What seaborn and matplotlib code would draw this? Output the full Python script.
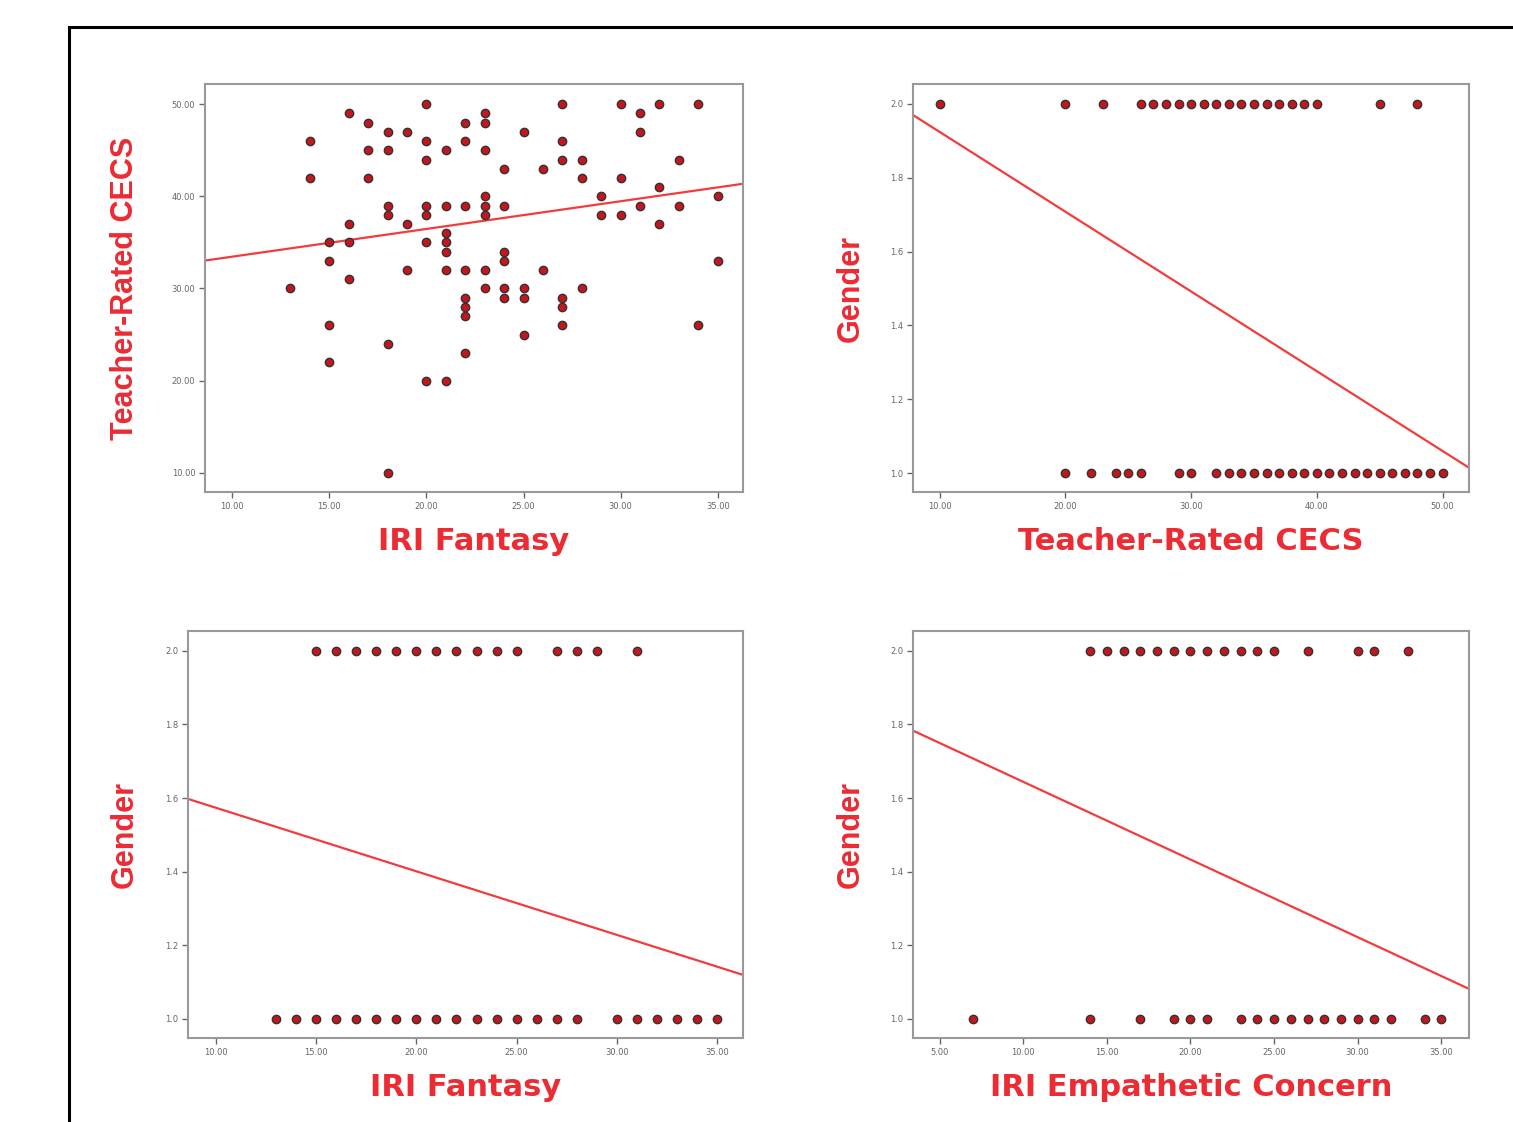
import numpy as np
import pandas as pd
import matplotlib
matplotlib.use("Agg")
import matplotlib.pyplot as plt
from matplotlib.patches import Rectangle
from matplotlib.ticker import FormatStrFormatter
import seaborn as sns

# --- Data ---
# Panel 1: IRI Fantasy vs Teacher-Rated CECS (points grouped by CECS value)
fantasy_by_cecs = {
    50: [20, 27, 30, 32, 34],
    49: [16, 23, 31],
    48: [17, 22, 23],
    47: [18, 19, 25, 31],
    46: [14, 20, 22, 27],
    45: [17, 18, 21, 23],
    44: [20, 27, 28, 33],
    43: [24, 26],
    42: [14, 17, 28, 30],
    41: [32],
    40: [23, 29, 35],
    39: [18, 20, 21, 22, 23, 24, 31, 33],
    38: [18, 20, 23, 29, 30],
    37: [16, 19, 32],
    36: [21],
    35: [15, 16, 20, 21],
    34: [21, 24],
    33: [15, 24, 35],
    32: [19, 21, 22, 23, 26],
    31: [16],
    30: [13, 23, 24, 25, 28],
    29: [22, 24, 25, 27],
    28: [22, 27],
    27: [22],
    26: [15, 27, 34],
    25: [25],
    24: [18],
    23: [22],
    22: [15],
    20: [20, 21],
    10: [18],
}

# Panel 2: Teacher-Rated CECS by gender
cecs_gender1 = [20, 22, 24, 25, 26, 29, 30] + list(range(32, 51))
cecs_gender2 = [10, 20, 23] + list(range(26, 41)) + [45, 48]

# Panel 3: IRI Fantasy by gender
fantasy_gender1 = list(range(13, 29)) + list(range(30, 36))
fantasy_gender2 = list(range(15, 26)) + [27, 28, 29, 31]

# Panel 4: IRI Empathetic Concern by gender
empathy_gender1 = [7, 14, 17, 19, 20, 21] + list(range(23, 33)) + [34, 35]
empathy_gender2 = list(range(14, 26)) + [27, 30, 31, 33]

# Fit lines (intercept, slope) as drawn in the reference
fit_fantasy_cecs = (30.44, 0.301)
fit_cecs_gender = (2.14, -0.0216)
fit_fantasy_gender = (1.747, -0.0173)
fit_empathy_gender = (1.855, -0.0211)

# --- Style ---
LABEL_RED = "#ec2b33"
LINE_RED = "#f23c3c"
POINT_FACE = "#c8141c"
POINT_EDGE = "#333333"
SPINE_GREY = "#999999"

sns.set_style("white")

W, H = 1513, 1122
fig = plt.figure(figsize=(W / 100, H / 100), dpi=100)

# Black page frame (top and left edges visible)
fig.add_artist(Rectangle((69 / W, -0.1), 1.0, (H - 27) / H + 0.1,
                         transform=fig.transFigure, fill=False,
                         edgecolor="black", linewidth=2.2))


def make_ax(x0, y0, x1, y1):
    return fig.add_axes([x0 / W, 1 - y1 / H, (x1 - x0) / W, (y1 - y0) / H])


def style_ax(ax, xlabel, ylabel, ylab_gap, ylab_size, yfmt):
    for sp in ax.spines.values():
        sp.set_visible(True)
        sp.set_color(SPINE_GREY)
        sp.set_linewidth(1.5)
    ax.tick_params(axis="both", which="major", direction="out", length=4,
                   width=1.0, color="#666666", labelsize=6, labelcolor="#666666",
                   pad=3, bottom=True, left=True)
    ax.yaxis.set_major_formatter(FormatStrFormatter(yfmt))
    ax.xaxis.set_major_formatter(FormatStrFormatter("%.2f"))
    ax.set_xlabel(xlabel, color=LABEL_RED, fontsize=22, fontweight="heavy",
                  family="DejaVu Sans")
    ax.set_ylabel(ylabel, color=LABEL_RED, fontsize=ylab_size, fontweight="bold",
                  family=["Liberation Sans", "DejaVu Sans"])
    ax.xaxis.set_label_coords(0.5, -0.085)
    bbox_w = ax.get_position().width * W
    ax.yaxis.set_label_coords(-ylab_gap / bbox_w, 0.5)


def scatter(ax, df, x, y):
    sns.scatterplot(data=df, x=x, y=y, ax=ax, s=36, color=POINT_FACE,
                    edgecolor=POINT_EDGE, linewidth=1.0, zorder=3, legend=False)


def fit_line(ax, fit):
    b0, b1 = fit
    ax.axline((0, b0), slope=b1, color=LINE_RED, linewidth=1.6, zorder=2)


# Panel 1
rows = [(fx, c) for c, xs in fantasy_by_cecs.items() for fx in xs]
df1 = pd.DataFrame(rows, columns=["fantasy", "cecs"])
ax1 = make_ax(205, 84, 743, 492)
scatter(ax1, df1, "fantasy", "cecs")
fit_line(ax1, fit_fantasy_cecs)
ax1.set_xlim(8.6, 36.3)
ax1.set_ylim(7.9, 52.2)
ax1.set_xticks([10, 15, 20, 25, 30, 35])
ax1.set_yticks([10, 20, 30, 40, 50])
style_ax(ax1, "IRI Fantasy", "Teacher-Rated CECS", 65, 22, "%.2f")


def gender_df(vals1, vals2, name):
    return pd.DataFrame({name: list(vals1) + list(vals2),
                         "gender": [1.0] * len(vals1) + [2.0] * len(vals2)})


gender_ticks = [1.0, 1.2, 1.4, 1.6, 1.8, 2.0]

# Panel 2
df2 = gender_df(cecs_gender1, cecs_gender2, "cecs")
ax2 = make_ax(913, 84, 1469, 492)
scatter(ax2, df2, "cecs", "gender")
fit_line(ax2, fit_cecs_gender)
ax2.set_xlim(7.87, 52.1)
ax2.set_ylim(0.949, 2.054)
ax2.set_xticks([10, 20, 30, 40, 50])
ax2.set_yticks(gender_ticks)
style_ax(ax2, "Teacher-Rated CECS", "Gender", 47, 22, "%.1f")

# Panel 3
df3 = gender_df(fantasy_gender1, fantasy_gender2, "fantasy")
ax3 = make_ax(188, 631, 743, 1038)
scatter(ax3, df3, "fantasy", "gender")
fit_line(ax3, fit_fantasy_gender)
ax3.set_xlim(8.63, 36.27)
ax3.set_ylim(0.948, 2.054)
ax3.set_xticks([10, 15, 20, 25, 30, 35])
ax3.set_yticks(gender_ticks)
style_ax(ax3, "IRI Fantasy", "Gender", 48, 22, "%.1f")

# Panel 4
df4 = gender_df(empathy_gender1, empathy_gender2, "empathy")
ax4 = make_ax(913, 631, 1469, 1038)
scatter(ax4, df4, "empathy", "gender")
fit_line(ax4, fit_empathy_gender)
ax4.set_xlim(3.40, 36.66)
ax4.set_ylim(0.948, 2.054)
ax4.set_xticks([5, 10, 15, 20, 25, 30, 35])
ax4.set_yticks(gender_ticks)
style_ax(ax4, "IRI Empathetic Concern", "Gender", 47, 22, "%.1f")

fig.savefig("out.png", dpi=100)
